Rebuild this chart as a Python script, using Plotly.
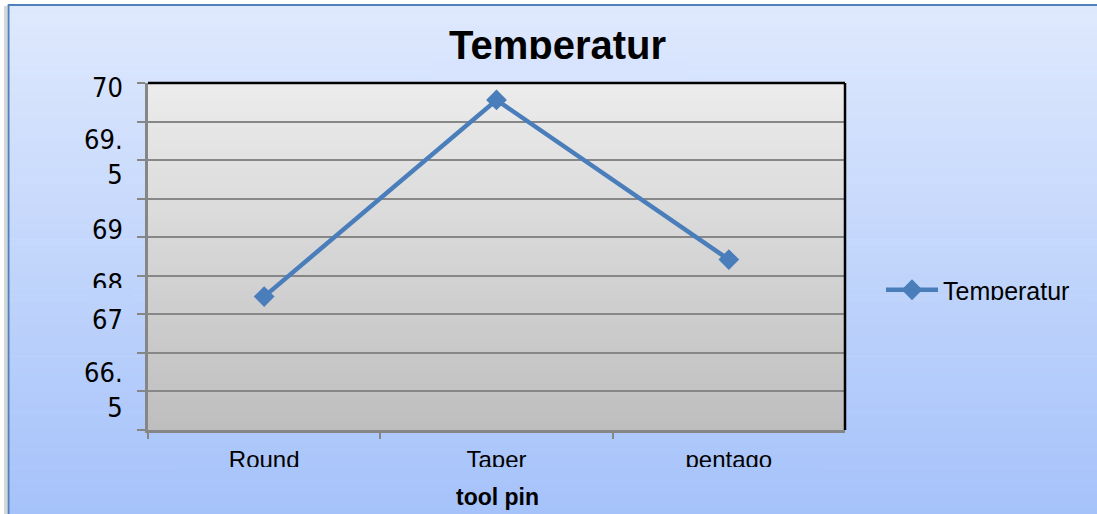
import plotly.graph_objects as go

# ---------------- data ----------------
categories = ["Round", "Taper", "pentago"]
temperatur = [67.23, 69.78, 67.71]
series_name = "Temperatur"
chart_title = "Temperatur"
x_title = "tool pin"
y_range = [65.5, 70.0]
y_grid_values = [65.5, 66.0, 66.5, 67.0, 67.5, 68.0, 68.5, 69.0, 69.5, 70.0]
y_tick_labels = ["70", "69.<br>5", "69", "68", "67", "66.<br>5"]
y_tick_label_pos = [69.945, 69.037, 68.096, 67.401, 66.934, 66.018]

# ---------------- layout helpers ----------------
W, H = 1097, 514
PLOT_L, PLOT_R, PLOT_T, PLOT_B = 148, 845, 83, 430


def px_x(p):
    return p / W


def px_y(p):
    return 1 - p / H


PAGE_TOP = (223, 233, 253)
PAGE_BOT = (165, 194, 250)
PLOT_TOP = (236, 236, 236)
PLOT_BOT = (190, 190, 190)


def mix(c1, c2, f):
    return "rgb(%d,%d,%d)" % tuple(round(a + (b - a) * f) for a, b in zip(c1, c2))


def page_color(py):
    f = min(max((py - 5) / (H - 5), 0), 1)
    return mix(PAGE_TOP, PAGE_BOT, f)


shapes = []
# page gradient
NB = 100
for i in range(NB):
    y0 = 5 + (H - 5) * i / NB
    y1 = 5 + (H - 5) * (i + 1) / NB
    shapes.append(dict(type="rect", xref="paper", yref="paper", layer="below",
                       x0=px_x(9), x1=1.0, y0=px_y(y1 + 0.6), y1=px_y(y0),
                       fillcolor=page_color((y0 + y1) / 2), line=dict(width=0)))
# plot-area gradient
NP = 60
for i in range(NP):
    f0 = i / NP
    f1 = (i + 1) / NP
    shapes.append(dict(type="rect", xref="x domain", yref="y domain", layer="below",
                       x0=0, x1=1, y0=max(0, 1 - f1 - 0.002), y1=1 - f0,
                       fillcolor=mix(PLOT_TOP, PLOT_BOT, (f0 + f1) / 2), line=dict(width=0)))
# outer shadow + border
shapes.append(dict(type="line", xref="paper", yref="paper", x0=px_x(5.5), x1=px_x(5.5),
                   y0=0, y1=px_y(6), line=dict(color="rgb(215,215,215)", width=3)))
shapes.append(dict(type="line", xref="paper", yref="paper", x0=px_x(8.5), x1=px_x(8.5),
                   y0=0, y1=px_y(4.5), line=dict(color="#4F81BD", width=2)))
shapes.append(dict(type="line", xref="paper", yref="paper", x0=px_x(8), x1=1,
                   y0=px_y(5), y1=px_y(5), line=dict(color="#4F81BD", width=2)))
# plot area top / right borders
shapes.append(dict(type="line", xref="x domain", yref="y domain", layer="above",
                   x0=0, x1=1, y0=1, y1=1, line=dict(color="black", width=2.5)))
shapes.append(dict(type="line", xref="x domain", yref="y domain", layer="above",
                   x0=1, x1=1, y0=0, y1=1, line=dict(color="black", width=2.5)))

fig = go.Figure()
fig.add_trace(go.Scatter(
    x=categories, y=temperatur, name=series_name, mode="lines+markers",
    line=dict(color="#4A7EBB", width=4.5),
    marker=dict(symbol="diamond", size=16, color="#4A7EBB"),
))

FONT = "Liberation Sans, Arial, sans-serif"
NARROW = "Liberation Sans Narrow, Arial Narrow, DejaVu Sans Condensed, sans-serif"

annotations = []
# title
annotations.append(dict(text="<b>%s</b>" % chart_title, xref="paper", yref="paper",
                        x=px_x(557), y=px_y(45), xanchor="center", yanchor="middle",
                        showarrow=False, font=dict(family=FONT, size=40, color="black")))
# x axis title
annotations.append(dict(text="<b>%s</b>" % x_title, xref="paper", yref="paper",
                        x=px_x(497), y=px_y(497), xanchor="center", yanchor="middle",
                        showarrow=False, font=dict(family=FONT, size=23, color="black")))
# y labels
for lab, pos in zip(y_tick_labels, y_tick_label_pos):
    annotations.append(dict(text=lab, xref="paper", yref="y", x=px_x(125), y=pos,
                            xanchor="right", yanchor="middle", align="right",
                            showarrow=False,
                            font=dict(family=NARROW, size=27, color="black")))


# covers that mimic the clipped text of the original picture
def cover(x0, x1, y0, y1):
    annotations.append(dict(text=" ", xref="paper", yref="paper", x=px_x(x0), y=px_y(y0),
                            xanchor="left", yanchor="top", width=x1 - x0, height=y1 - y0,
                            borderpad=0, borderwidth=0, bgcolor=page_color((y0 + y1) / 2),
                            showarrow=False, font=dict(size=2)))


cover(430, 690, 59, 79)
cover(88, 132, 287.5, 302)
cover(180, 820, 467, 480)
cover(938, 1090, 299.5, 314)

fig.update_layout(
    width=W, height=H,
    margin=dict(l=0, r=0, t=0, b=0),
    paper_bgcolor="white",
    plot_bgcolor="rgba(0,0,0,0)",
    shapes=shapes,
    annotations=annotations,
    showlegend=True,
    legend=dict(x=px_x(881), y=px_y(290), xanchor="left", yanchor="middle",
                bgcolor="rgba(0,0,0,0)", font=dict(family=FONT, size=25, color="black"),
                itemwidth=52),
    xaxis=dict(domain=[px_x(PLOT_L), px_x(PLOT_R)], type="category",
               range=[-0.5, 2.5], showgrid=False, tickson="boundaries",
               ticks="outside", ticklen=6, tickwidth=1.5, tickcolor="#868686",
               showline=True, linecolor="#868686", linewidth=2.5,
               tickfont=dict(family=FONT, size=24, color="black"),
               ticklabelstandoff=6, zeroline=False),
    yaxis=dict(domain=[px_y(PLOT_B), px_y(PLOT_T)], range=y_range,
               tickmode="array", tickvals=y_grid_values, showticklabels=False,
               showgrid=True, gridcolor="#878787", gridwidth=1.75,
               ticks="outside", ticklen=8, tickwidth=1.5, tickcolor="#868686",
               showline=True, linecolor="#868686", linewidth=2.5, zeroline=False),
)

fig.write_html("out.html", config={"displayModeBar": False},
               post_script="document.body.style.margin='0px';")
